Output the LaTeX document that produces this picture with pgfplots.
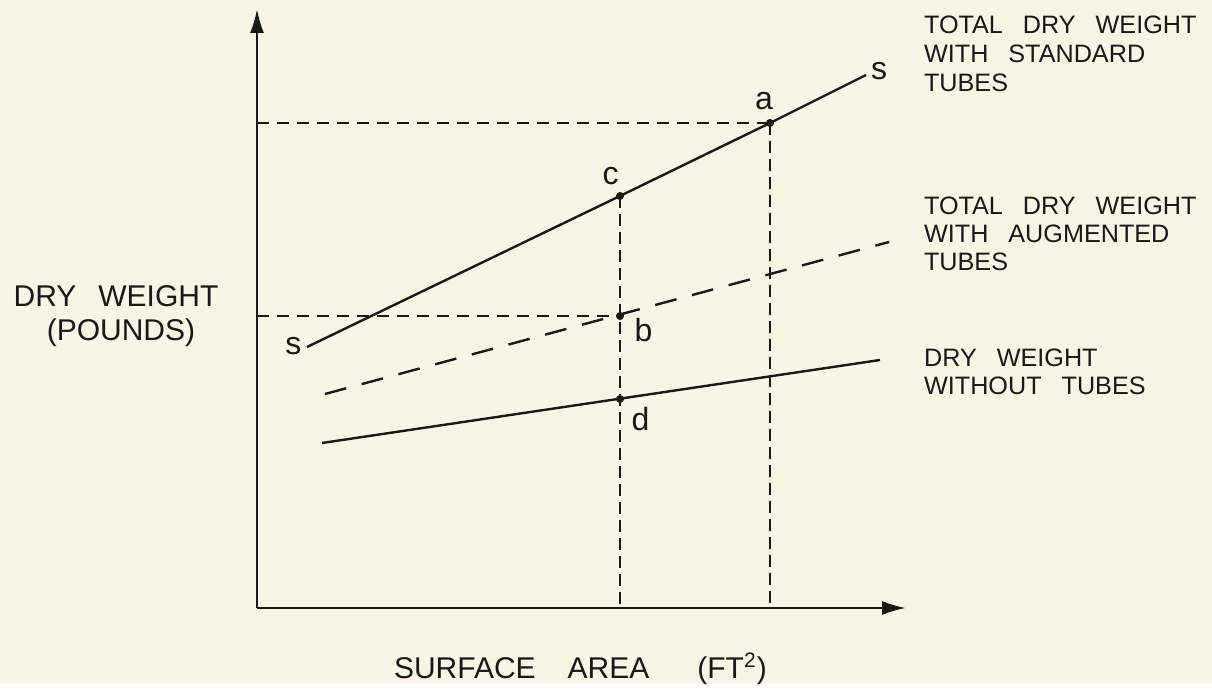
\documentclass[border=0pt]{standalone}
\usepackage{fontspec}
\setmainfont{Liberation Sans}
\usepackage{pgfplots}
\pgfplotsset{compat=1.18}
\usetikzlibrary{arrows.meta}
\definecolor{bg}{RGB}{248,245,229}
\definecolor{ink}{RGB}{25,25,25}
\newcommand{\gap}{\hspace{10pt}}
\newcommand{\rfont}{\fontsize{12.6}{14}\selectfont}
\newcommand{\afont}{\fontsize{15}{17}\selectfont}
\newcommand{\lfont}{\fontsize{16}{18}\selectfont}
\begin{document}
\begin{tikzpicture}
\begin{axis}[
  set layers,
  x=0.5pt, y=0.5pt,
  xmin=257, xmax=906, ymin=75, ymax=674,
  axis lines=left,
  axis line style={ink, line width=1.2pt, -{Latex[length=12pt,width=7pt]}},
  xtick=\empty, ytick=\empty,
  clip=false,
]
\begin{pgfonlayer}{axis background}
\fill[bg] (axis cs:0,0) rectangle (axis cs:1212,683);
\end{pgfonlayer}
% total dry weight with standard tubes
\addplot[ink, line width=1.2pt] coordinates {(307,336) (620,487) (770,560) (866,608)};
% total dry weight with augmented tubes
\addplot[ink, line width=1.2pt, dash pattern=on 11pt off 8pt] coordinates {(325,289) (889,441)};
% dry weight without tubes
\addplot[ink, line width=1.2pt] coordinates {(322,240) (880,323)};
% reference dashed lines
\addplot[ink, line width=0.9pt, dash pattern=on 6pt off 4pt] coordinates {(257,560) (770,560)};
\addplot[ink, line width=0.9pt, dash pattern=on 6pt off 4pt] coordinates {(257,367) (620,367)};
\addplot[ink, line width=0.7pt, dash pattern=on 6pt off 3pt] coordinates {(620,487) (620,75)};
\addplot[ink, line width=0.7pt, dash pattern=on 6pt off 3pt] coordinates {(770,560) (770,75)};
% points a, c, b, d
\addplot[ink, only marks, mark=*, mark size=1.8pt] coordinates {(620,487) (770,560) (620,367) (620,284)};
% point letters
\node[ink, font=\lfont] at (axis cs:610.5,506.5) {c};
\node[ink, font=\lfont] at (axis cs:764,582) {a};
\node[ink, font=\lfont] at (axis cs:643.5,353) {b};
\node[ink, font=\lfont] at (axis cs:640.5,264) {d};
\node[ink, font=\lfont] at (axis cs:293.5,337) {s};
\node[ink, font=\lfont] at (axis cs:879,612) {s};
% right labels
\node[ink, anchor=base west, font=\rfont] at (axis cs:917,649) {TOTAL\gap DRY\gap WEIGHT};
\node[ink, anchor=base west, font=\rfont] at (axis cs:917,620) {WITH\gap STANDARD};
\node[ink, anchor=base west, font=\rfont] at (axis cs:917,591) {TUBES};
\node[ink, anchor=base west, font=\rfont] at (axis cs:917,468) {TOTAL\gap DRY\gap WEIGHT};
\node[ink, anchor=base west, font=\rfont] at (axis cs:917,440) {WITH\gap AUGMENTED};
\node[ink, anchor=base west, font=\rfont] at (axis cs:917,412) {TUBES};
\node[ink, anchor=base west, font=\rfont] at (axis cs:917,316) {DRY\gap WEIGHT};
\node[ink, anchor=base west, font=\rfont] at (axis cs:917,288) {WITHOUT\gap TUBES};
% axis labels
\node[ink, anchor=base, font=\afont] at (axis cs:116,376) {DRY\hspace{11pt}WEIGHT};
\node[ink, anchor=base, font=\afont] at (axis cs:121,342) {(POUNDS)};
\node[ink, anchor=base west, font=\afont] at (axis cs:387,5) {SURFACE\hspace{16pt}AREA\hspace{24pt}(FT\textsuperscript{2})};
\end{axis}
\end{tikzpicture}
\end{document}
